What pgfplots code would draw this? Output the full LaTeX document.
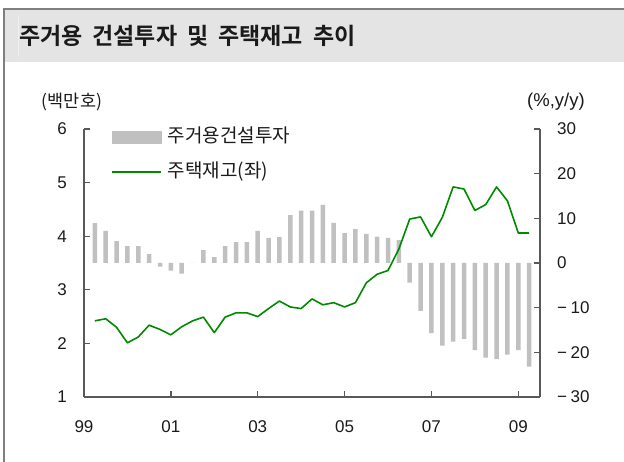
\documentclass[border=0pt]{standalone}
\usepackage{fontspec}
\setmainfont{Liberation Sans}
\newfontfamily\kr{Noto Sans CJK KR}[BoldFont={Noto Sans CJK KR Bold}]
\usepackage{pgfplots}
\usepackage{pgfplotstable}
\pgfplotsset{compat=1.18}
\definecolor{barc}{HTML}{C0C0C0}
\definecolor{linec}{HTML}{008A00}
\definecolor{axisc}{HTML}{595959}
\definecolor{bandc}{HTML}{E4E4E4}
\definecolor{borderc}{HTML}{7F7F7F}
\definecolor{textc}{HTML}{1A1A1A}

% t = quarter, inv = residential construction investment (%, y/y), stock = housing stock (mn)
\pgfplotstableread{
t        inv    stock
1999.25  8.9    2.42
1999.50  7.2    2.46
1999.75  4.9    2.30
2000.00  3.8    2.01
2000.25  3.8    2.12
2000.50  2.0    2.34
2000.75  -0.8   2.26
2001.00  -1.7   2.16
2001.25  -2.4   2.31
2001.50  0.0    2.42
2001.75  2.9    2.49
2002.00  1.3    2.20
2002.25  3.8    2.49
2002.50  4.7    2.57
2002.75  4.7    2.57
2003.00  7.2    2.50
2003.25  5.6    2.65
2003.50  5.8    2.79
2003.75  10.7   2.68
2004.00  11.7   2.65
2004.25  11.7   2.83
2004.50  13.0   2.72
2004.75  9.0    2.76
2005.00  6.7    2.68
2005.25  7.6    2.76
2005.50  6.5    3.13
2005.75  5.9    3.29
2006.00  5.6    3.36
2006.25  5.1    3.76
2006.50  -4.4   4.32
2006.75  -10.7  4.36
2007.00  -15.7  3.99
2007.25  -18.5  4.35
2007.50  -17.6  4.92
2007.75  -17.0  4.88
2008.00  -19.5  4.48
2008.25  -21.2  4.59
2008.50  -21.5  4.92
2008.75  -20.5  4.66
2009.00  -19.5  4.06
2009.25  -23.2  4.06
}\housing

\pgfplotsset{
  common/.style={
    at={(84pt,65pt)}, anchor=south west, scale only axis,
    width=456pt, height=268pt, xmin=1999, xmax=2009.5,
    axis line style={axisc, line width=1.3pt, -},
    tick align=inside, major tick length=6pt,
    tick style={axisc, line width=1.3pt},
    tick label style={text=textc, inner sep=0pt, font=\fontsize{17}{20}\selectfont},
  }
}

\begin{document}
\begin{tikzpicture}
\path[use as bounding box] (0pt,0pt) rectangle (624pt,462pt);
\fill[bandc] (5pt,400pt) rectangle (624pt,452pt);
\draw[white!94!black, line width=0.6pt] (18pt,405pt) -- (18pt,447pt);
\draw[borderc, line width=2pt] (4pt,0pt) -- (4pt,453pt) -- (624pt,453pt);
\node[anchor=west, inner sep=0pt, text=textc, font=\kr\bfseries\fontsize{23}{26}\selectfont]
  at (19pt,426pt) {주거용\hspace{10pt}건설투자\hspace{10pt}및\hspace{10pt}주택재고\hspace{10pt}추이};
\node[text=textc, inner sep=0pt, font=\kr\fontsize{17.5}{19}\selectfont] at (72pt,360pt) {(백만호)};
\node[text=textc, inner sep=0pt, font=\fontsize{18.5}{19}\selectfont] at (556pt,360pt) {(\%,y/y)};

% bars: right axis
\begin{axis}[common,
  ymin=-30, ymax=30,
  axis x line=none, axis y line*=right,
  ytick={-30,-20,...,30},
  yticklabels={−\hspace{3.5pt}30,−\hspace{3.5pt}20,−\hspace{3.5pt}10,0,10,20,30},
  yticklabel style={anchor=west, xshift=17pt},
]
\addplot[ybar, bar width=4.5pt, fill=barc, draw=none] table[x=t, y=inv] {\housing};
\end{axis}

% line: left axis
\begin{axis}[common,
  ymin=1, ymax=6,
  axis x line*=bottom, axis y line*=left,
  xtick={1999,2001,...,2009}, xticklabels={99,01,03,05,07,09},
  xticklabel style={anchor=north, yshift=-23pt},
  ytick={1,...,6}, yticklabels={1,2,3,4,5,6},
  yticklabel style={anchor=east, xshift=-17pt},
  legend style={at={(axis description cs:0.059,1.004)}, anchor=north west,
    draw=none, fill=none, inner sep=0pt, row sep=16pt, column sep=6pt,
    font=\kr\fontsize{19}{19}\selectfont, text=textc,
    nodes={inner sep=0pt, text height=14.5pt, text depth=4pt}},
  legend cell align=left,
]
\addlegendimage{legend image code/.code={\fill[barc] (0pt,-6pt) rectangle (49pt,6pt);}}
\addlegendentry{주거용건설투자}
\addplot[linec, line width=1.6pt, line join=round, mark=none,
  legend image code/.code={\draw[linec, line width=1.6pt] (0pt,0pt) -- (49pt,0pt);}]
  table[x=t, y=stock] {\housing};
\addlegendentry{주택재고(좌)}
\end{axis}
\end{tikzpicture}
\end{document}
